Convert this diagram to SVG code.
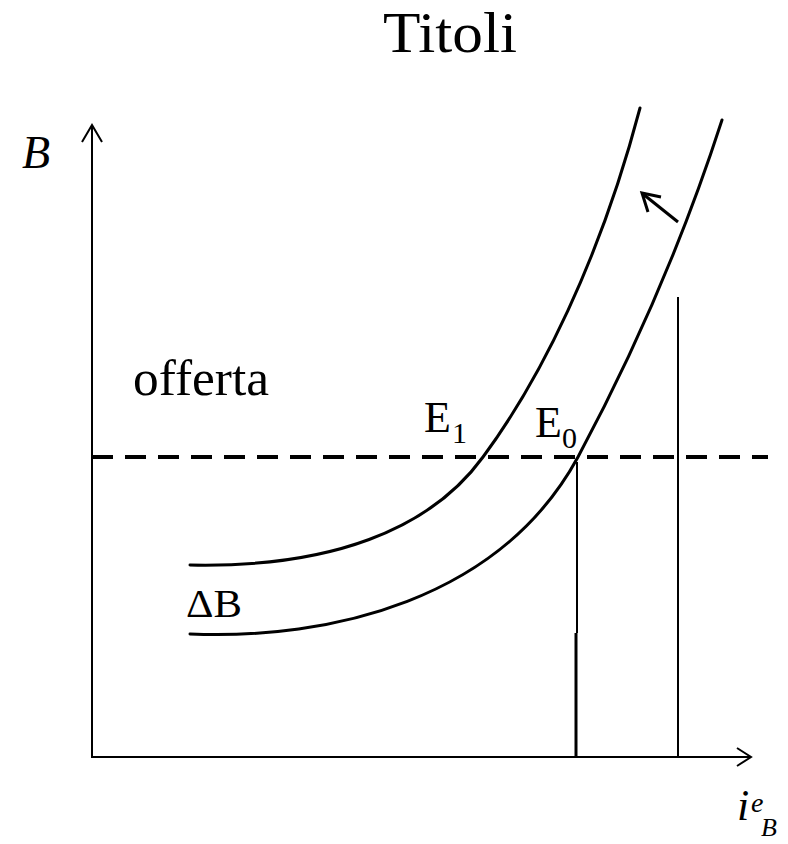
<svg xmlns="http://www.w3.org/2000/svg" width="788" height="844" viewBox="0 0 788 844">
<style>
.t{font-family:"Liberation Serif","DejaVu Serif",serif;fill:#000}
.ax{stroke:#000;stroke-width:2;fill:none}
.cv{stroke:#000;stroke-width:3;fill:none;stroke-linecap:round}
</style>
<rect width="788" height="844" fill="#fff"/>
<g id="title"><text class="t" x="383" y="52" font-size="56" textLength="134" lengthAdjust="spacingAndGlyphs">Titoli</text></g>
<g id="axes">
<line class="ax" x1="92" y1="758" x2="92" y2="125"/>
<polyline class="ax" points="82,142 92,125 102,142"/>
<line class="ax" x1="92" y1="757" x2="750" y2="757"/>
<polyline class="ax" points="737,748 751,757 737,766"/>
</g>
<g id="labels">
<text class="t" x="22" y="168" font-size="46" font-style="italic">B</text>
<text class="t" x="133" y="395" font-size="50" textLength="136" lengthAdjust="spacingAndGlyphs">offerta</text>
<text class="t" x="424" y="432" font-size="44">E</text>
<text class="t" x="452" y="443" font-size="30">1</text>
<text class="t" x="535" y="437" font-size="44">E</text>
<text class="t" x="562" y="448" font-size="30">0</text>
<text class="t" x="186" y="617" font-size="40" textLength="56" lengthAdjust="spacingAndGlyphs">ΔB</text>
<text class="t" x="737" y="820" font-size="44" font-style="italic">i</text>
<text class="t" x="751" y="812" font-size="28" font-style="italic">e</text>
<text class="t" x="761" y="836" font-size="26" font-style="italic">B</text>
</g>
<g id="connectors">
<line x1="92" y1="457" x2="768" y2="457" stroke="#000" stroke-width="4" stroke-dasharray="21,12"/>
<path class="cv" d="M190,565 C330,568 430,530 483,457 C540,380 600,260 640,108"/>
<path class="cv" d="M190,634 C330,640 500,600 578,457 C630,360 680,250 722,120"/>
<line x1="577" y1="462" x2="577" y2="633" stroke="#000" stroke-width="2"/>
<line x1="576" y1="633" x2="576" y2="757" stroke="#000" stroke-width="3"/>
<line x1="678" y1="297" x2="678" y2="757" stroke="#000" stroke-width="2"/>
<line x1="678" y1="222" x2="643" y2="194" stroke="#000" stroke-width="3"/>
<polyline points="661,197 642,193 648,212" stroke="#000" stroke-width="3" fill="none"/>
</g>
</svg>
